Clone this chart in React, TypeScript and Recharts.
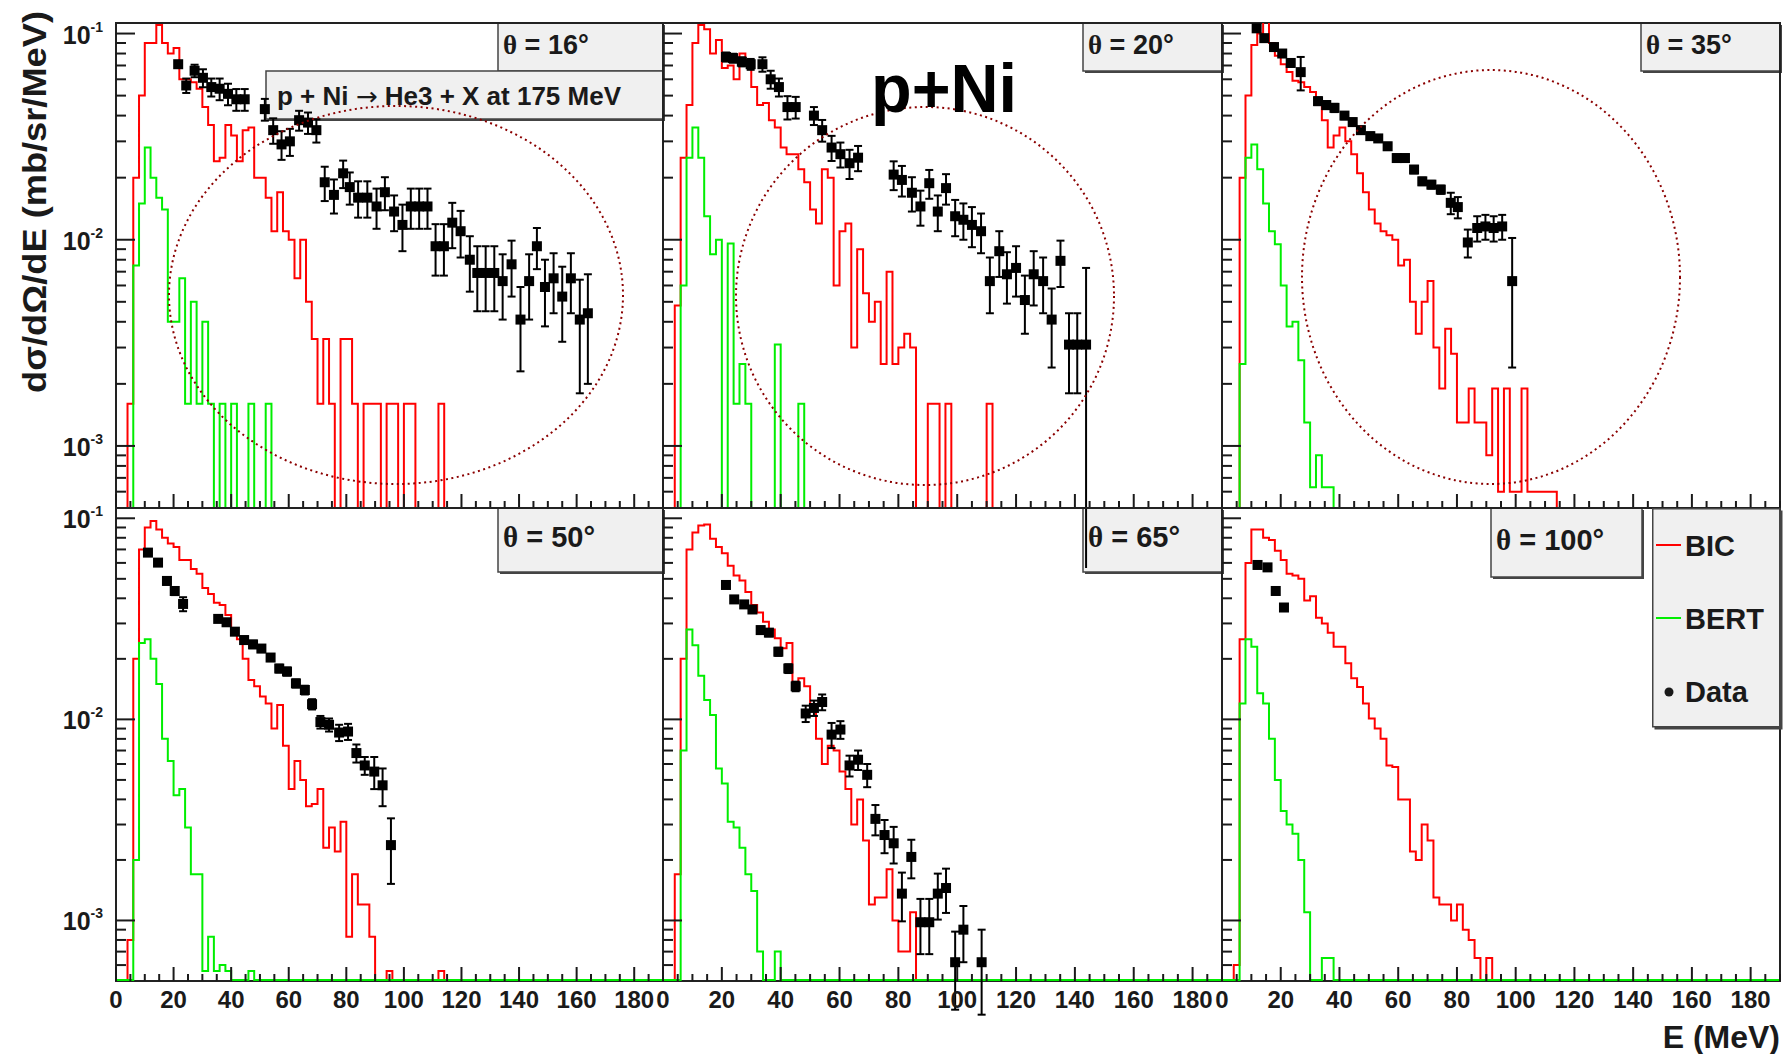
import React from "react";
import { ComposedChart, Line, Scatter, ErrorBar, XAxis, YAxis, ReferenceArea, Legend } from "recharts";

const FONT = "'Liberation Sans', Arial, Helvetica, sans-serif";
const SERIF = "'Liberation Serif', 'DejaVu Serif', serif";
const INK = "#1a1a1a";
const RED = "#ff0000";
const GREEN = "#00ee00";

// binning (MeV) and axis ranges
const BIN = 2;
const E_MAX = 190;
const Y_MIN = 0.0005;
const Y_MAX = 0.1125;

const X_TICKS = [0, 5, 10, 15, 20, 25, 30, 35, 40, 45, 50, 55, 60, 65, 70, 75, 80, 85, 90, 95, 100, 105, 110, 115, 120, 125, 130, 135, 140, 145, 150, 155, 160, 165, 170, 175, 180, 185, 190];
const X_LABELS = [0, 20, 40, 60, 80, 100, 120, 140, 160, 180];
const Y_TICKS = [0.0006, 0.0007, 0.0008, 0.0009, 0.001, 0.002, 0.003, 0.004, 0.005, 0.006, 0.007, 0.008, 0.009, 0.01, 0.02, 0.03, 0.04, 0.05, 0.06, 0.07, 0.08, 0.09, 0.1];
const Y_DECADES = [0.001, 0.01, 0.1];

const ANGLES = [16, 20, 35, 50, 65, 100];

// BIC / BERT histograms, one value per 2 MeV bin starting at 0 MeV (trailing empty bins left out)
const BIC_16 = [0, 0, 0.0016, 0.02, 0.05, 0.09, 0.09, 0.11, 0.09, 0.08, 0.085, 0.06, 0.06, 0.058, 0.054, 0.044, 0.036, 0.024, 0.025, 0.036, 0.032, 0.024, 0.034, 0.035, 0.02, 0.02, 0.016, 0.011, 0.017, 0.011, 0.01, 0.0065, 0.01, 0.005, 0.0033, 0.0016, 0.0033, 0.0016, 0, 0.0033, 0.0033, 0.0016, 0, 0.0016, 0.0016, 0.0016, 0, 0.0016, 0.0016, 0, 0.0016, 0.0016, 0, 0, 0, 0, 0.0016];
const BERT_16 = [0, 0, 0, 0.0075, 0.015, 0.028, 0.02, 0.016, 0.014, 0.004, 0.004, 0.0065, 0.0016, 0.005, 0.0016, 0.004, 0.0016, 0, 0.0016, 0, 0.0016, 0, 0, 0.0016, 0, 0, 0.0016];

const BIC_20 = [0, 0, 0.0048, 0.025, 0.045, 0.09, 0.11, 0.105, 0.08, 0.093, 0.068, 0.07, 0.06, 0.08, 0.072, 0.055, 0.045, 0.046, 0.038, 0.035, 0.028, 0.026, 0.026, 0.022, 0.019, 0.014, 0.012, 0.022, 0.02, 0.006, 0.011, 0.012, 0.003, 0.009, 0.0055, 0.004, 0.005, 0.0025, 0.007, 0.0025, 0.003, 0.0035, 0.003, 0, 0, 0.0016, 0.0016, 0, 0.0016, 0, 0, 0, 0, 0, 0, 0.0016];
const BERT_20 = [0, 0, 0, 0.006, 0.025, 0.035, 0.025, 0.013, 0.0085, 0.01, 0, 0.0096, 0.0016, 0.0025, 0.0016, 0, 0, 0, 0, 0.0031, 0, 0, 0, 0.0016];

const BIC_35 = [0, 0, 0, 0.02, 0.05, 0.088, 0.1, 0.115, 0.09, 0.078, 0.071, 0.065, 0.059, 0.058, 0.055, 0.052, 0.045, 0.038, 0.028, 0.032, 0.035, 0.03, 0.026, 0.021, 0.017, 0.014, 0.012, 0.011, 0.0105, 0.01, 0.0075, 0.008, 0.005, 0.0035, 0.005, 0.0063, 0.003, 0.0019, 0.0037, 0.0028, 0.0013, 0.0013, 0.0019, 0.0013, 0.0013, 0.0009, 0.0019, 0.0006, 0.0019, 0.0006, 0.0006, 0.0019, 0.0006, 0.0006, 0.0006, 0.0006, 0.0006];
const BERT_35 = [0, 0, 0, 0.0025, 0.025, 0.029, 0.022, 0.015, 0.011, 0.0095, 0.006, 0.0038, 0.004, 0.0026, 0.0013, 0.00063, 0.0009, 0.00063, 0.00063];

const BIC_50 = [0, 0, 0.0008, 0.02, 0.07, 0.09, 0.097, 0.088, 0.08, 0.075, 0.072, 0.062, 0.062, 0.056, 0.053, 0.045, 0.042, 0.038, 0.037, 0.033, 0.028, 0.025, 0.02, 0.0157, 0.0146, 0.013, 0.012, 0.009, 0.0118, 0.0074, 0.0045, 0.0062, 0.005, 0.0037, 0.0038, 0.0045, 0.0023, 0.0029, 0.0022, 0.0031, 0.00083, 0.0017, 0.0012, 0.0012, 0.00083, 0, 0, 0.00056, 0, 0, 0, 0, 0, 0, 0, 0, 0.00056];
const BERT_50 = [0, 0, 0, 0.002, 0.024, 0.025, 0.02, 0.015, 0.008, 0.0062, 0.0042, 0.0045, 0.0029, 0.0017, 0.0017, 0.00056, 0.00083, 0.00056, 0.0006, 0.00056, 0, 0, 0, 0.00056];

const BIC_65 = [0, 0, 0.0017, 0.02, 0.07, 0.085, 0.092, 0.093, 0.079, 0.072, 0.067, 0.058, 0.052, 0.049, 0.043, 0.037, 0.034, 0.0306, 0.028, 0.0253, 0.0226, 0.024, 0.015, 0.016, 0.0146, 0.0115, 0.008, 0.006, 0.0074, 0.007, 0.0055, 0.0045, 0.003, 0.004, 0.0025, 0.0012, 0.0013, 0.0013, 0.0018, 0.001, 0.0007, 0.0007, 0.0011];
const BERT_65 = [0, 0, 0, 0.007, 0.028, 0.0234, 0.0165, 0.0125, 0.0105, 0.0057, 0.0048, 0.0031, 0.0029, 0.0023, 0.0017, 0.0014, 0.0007, 0, 0, 0.0007];

const BIC_100 = [0, 0, 0.0006, 0.025, 0.06, 0.088, 0.088, 0.08, 0.078, 0.069, 0.062, 0.053, 0.052, 0.05, 0.039, 0.041, 0.032, 0.03, 0.027, 0.023, 0.023, 0.019, 0.016, 0.0145, 0.012, 0.0101, 0.009, 0.008, 0.0059, 0.0058, 0.004, 0.004, 0.0022, 0.002, 0.003, 0.0025, 0.0013, 0.0012, 0.0012, 0.001, 0.0012, 0.0009, 0.0008, 0.00065, 0, 0.00065];
const BERT_100 = [0, 0, 0, 0.012, 0.025, 0.023, 0.0135, 0.012, 0.008, 0.005, 0.0035, 0.003, 0.0027, 0.002, 0.0011, 0, 0, 0.00065, 0.00065];

// measured He3 points: energy (MeV), cross section, error
const DATA_E_16 = [21.6, 24.4, 27.3, 30.2, 33.1, 36.0, 38.9, 41.8, 44.7, 51.7, 54.6, 57.5, 60.4, 63.6, 66.7, 69.6, 72.5, 75.7, 78.9, 81.2, 84.1, 87.3, 90.5, 93.4, 96.6, 99.5, 102.4, 105.3, 108.2, 111.0, 113.9, 116.8, 119.7, 122.9, 125.5, 128.4, 131.4, 134.3, 137.4, 140.5, 143.5, 146.2, 149.0, 152.0, 155.0, 158.0, 161.1, 163.9];
const DATA_16 = [0.071, 0.056, 0.066, 0.061, 0.055, 0.054, 0.051, 0.048, 0.048, 0.043, 0.034, 0.029, 0.030, 0.038, 0.037, 0.034, 0.019, 0.0165, 0.021, 0.018, 0.016, 0.016, 0.0145, 0.017, 0.0137, 0.0118, 0.0145, 0.0145, 0.0145, 0.0093, 0.0093, 0.0121, 0.011, 0.008, 0.0069, 0.0069, 0.0069, 0.0063, 0.0076, 0.0041, 0.0063, 0.0093, 0.0059, 0.0065, 0.0053, 0.0065, 0.0041, 0.0044];
const DATA_ERR_16 = [0.002, 0.0045, 0.0046, 0.0061, 0.0055, 0.0065, 0.0061, 0.0058, 0.0058, 0.0052, 0.0048, 0.0046, 0.0045, 0.0042, 0.0044, 0.0044, 0.0036, 0.0031, 0.0032, 0.0032, 0.0032, 0.0032, 0.0032, 0.0031, 0.0027, 0.003, 0.0032, 0.0032, 0.0032, 0.0026, 0.0026, 0.003, 0.0028, 0.0024, 0.0024, 0.0024, 0.0024, 0.0022, 0.0023, 0.0018, 0.0022, 0.0021, 0.0021, 0.0021, 0.0021, 0.0021, 0.0023, 0.0024];

const DATA_E_20 = [21.4, 23.8, 26.8, 29.8, 33.8, 36.6, 39.4, 42.3, 45.1, 51.3, 54.1, 57.3, 60.3, 63.4, 66.3, 78.4, 81.2, 84.6, 87.5, 90.5, 93.4, 96.2, 99.3, 102.1, 105.0, 108.1, 111.1, 114.3, 116.9, 120.0, 123.0, 126.0, 129.2, 132.1, 135.1, 138.0, 140.8, 143.8];
const DATA_20 = [0.077, 0.076, 0.073, 0.071, 0.071, 0.060, 0.055, 0.044, 0.044, 0.040, 0.034, 0.028, 0.026, 0.0235, 0.025, 0.0207, 0.0195, 0.0169, 0.0145, 0.0188, 0.0137, 0.0178, 0.013, 0.0125, 0.0118, 0.011, 0.0063, 0.0088, 0.0068, 0.0073, 0.0051, 0.0068, 0.0063, 0.0041, 0.0079, 0.0031, 0.0031, 0.0031];
const DATA_ERR_20 = [0.0039, 0.0038, 0.0037, 0.0043, 0.0057, 0.006, 0.0055, 0.0057, 0.0053, 0.004, 0.0041, 0.0039, 0.0036, 0.0038, 0.0035, 0.0033, 0.0033, 0.0032, 0.0028, 0.003, 0.0027, 0.003, 0.0026, 0.0025, 0.0026, 0.0024, 0.0019, 0.0022, 0.0019, 0.002, 0.0016, 0.002, 0.0019, 0.0017, 0.002, 0.0013, 0.0013, 0.0042];

const DATA_E_35 = [11.8, 14.4, 17.7, 20.5, 23.4, 26.8, 32.7, 35.5, 38.3, 41.7, 44.5, 47.3, 50.5, 53.2, 56.4, 59.5, 62.3, 65.4, 68.2, 71.3, 74.5, 77.9, 80.3, 83.7, 86.9, 89.7, 92.5, 95.4, 98.8];
const DATA_35 = [0.106, 0.095, 0.086, 0.080, 0.072, 0.065, 0.047, 0.045, 0.0436, 0.040, 0.0372, 0.034, 0.0318, 0.031, 0.0284, 0.0249, 0.0249, 0.0219, 0.0192, 0.0185, 0.0175, 0.0151, 0.0144, 0.0097, 0.0114, 0.0116, 0.0114, 0.0116, 0.0063];
const DATA_ERR_35 = [0.003, 0.003, 0.003, 0.003, 0.003, 0.012, 0.002, 0.002, 0.002, 0.0016, 0.0015, 0.0014, 0.0013, 0.0012, 0.0011, 0.001, 0.001, 0.0009, 0.0008, 0.0008, 0.0008, 0.0018, 0.0017, 0.0015, 0.0016, 0.0016, 0.0016, 0.0016, 0.0039];

const DATA_E_50 = [11.1, 14.6, 17.7, 20.4, 23.3, 35.5, 38.4, 41.3, 44.5, 47.6, 50.5, 53.7, 56.7, 59.4, 62.5, 65.6, 68.1, 71.0, 74.0, 77.5, 80.6, 83.5, 86.4, 89.7, 92.6, 95.5];
const DATA_50 = [0.0675, 0.0602, 0.0488, 0.0435, 0.0375, 0.0316, 0.0304, 0.0273, 0.0248, 0.0236, 0.0225, 0.0203, 0.0179, 0.0173, 0.0151, 0.014, 0.0119, 0.0097, 0.0094, 0.0086, 0.0087, 0.0068, 0.0059, 0.0055, 0.0047, 0.00237];
const DATA_ERR_50 = [0.002, 0.002, 0.002, 0.002, 0.003, 0.001, 0.001, 0.001, 0.001, 0.001, 0.0009, 0.0008, 0.0008, 0.0008, 0.0007, 0.0007, 0.0007, 0.0007, 0.0007, 0.0008, 0.0008, 0.0007, 0.0006, 0.001, 0.001, 0.00085];

const DATA_E_65 = [21.4, 24.2, 27.6, 30.4, 33.2, 36.0, 39.2, 42.6, 45.1, 48.5, 51.3, 54.1, 57.3, 60.3, 63.4, 66.3, 69.4, 72.2, 75.3, 78.4, 81.2, 84.4, 87.5, 90.5, 93.4, 96.2, 99.3, 102.1, 108.3];
const DATA_65 = [0.0466, 0.0395, 0.0373, 0.0352, 0.0278, 0.027, 0.0217, 0.0179, 0.0146, 0.0107, 0.0114, 0.0122, 0.0084, 0.0089, 0.0059, 0.0063, 0.0053, 0.0032, 0.00266, 0.00242, 0.00136, 0.00207, 0.00098, 0.00098, 0.00136, 0.00145, 0.00062, 0.0009, 0.00062];
const DATA_ERR_65 = [0.0015, 0.0013, 0.0012, 0.0012, 0.0011, 0.0011, 0.001, 0.0009, 0.0008, 0.001, 0.001, 0.0011, 0.0012, 0.0009, 0.0007, 0.0007, 0.0007, 0.00055, 0.0005, 0.0005, 0.00037, 0.00045, 0.0003, 0.0003, 0.00035, 0.00036, 0.00026, 0.00028, 0.00028];

const DATA_E_100 = [12.1, 15.5, 18.3, 21.1];
const DATA_100 = [0.0586, 0.057, 0.0435, 0.036];
const DATA_ERR_100 = [0.0015, 0.0015, 0.0012, 0.001];

const PANELS = [
  { angle: ANGLES[0], row: 0, col: 0, bic: BIC_16, bert: BERT_16, e: DATA_E_16, v: DATA_16, err: DATA_ERR_16 },
  { angle: ANGLES[1], row: 0, col: 1, bic: BIC_20, bert: BERT_20, e: DATA_E_20, v: DATA_20, err: DATA_ERR_20 },
  { angle: ANGLES[2], row: 0, col: 2, bic: BIC_35, bert: BERT_35, e: DATA_E_35, v: DATA_35, err: DATA_ERR_35 },
  { angle: ANGLES[3], row: 1, col: 0, bic: BIC_50, bert: BERT_50, e: DATA_E_50, v: DATA_50, err: DATA_ERR_50 },
  { angle: ANGLES[4], row: 1, col: 1, bic: BIC_65, bert: BERT_65, e: DATA_E_65, v: DATA_65, err: DATA_ERR_65 },
  { angle: ANGLES[5], row: 1, col: 2, bic: BIC_100, bert: BERT_100, e: DATA_E_100, v: DATA_100, err: DATA_ERR_100, legend: true },
];

// page layout (px)
const COLS = [
  { left: 116, width: 547 },
  { left: 663, width: 559 },
  { left: 1222, width: 558 },
];
const ROWS = [
  { top: 23, height: 485, floor: 1e-5 },
  { top: 508, height: 473, floor: Y_MIN * 1.012 },
];
const PAD_L = 100;
const PAD_T = 10;
const PAD_R = 10;
const PAD_B = 60;

const THETA_BOXES = [
  { x: 498, y: 23, w: 165, h: 48, tx: 503, ty: 54, fs: 27 },
  { x: 1083, y: 23, w: 139, h: 48, tx: 1088, ty: 54, fs: 27 },
  { x: 1641, y: 23, w: 139, h: 48, tx: 1646, ty: 54, fs: 27 },
  { x: 498, y: 508, w: 165, h: 64, tx: 503, ty: 547, fs: 29 },
  { x: 1083, y: 508, w: 139, h: 64, tx: 1088, ty: 547, fs: 29 },
  { x: 1491, y: 508, w: 151, h: 69, tx: 1496, ty: 550, fs: 29 },
];

const LEGEND_ORDER = ["BIC", "BERT", "Data"];

function histTable(bic: number[], bert: number[], floor: number) {
  const rows: { x: number; bic: number; bert: number }[] = [];
  for (let i = 0; i * BIN <= E_MAX; i++) {
    const b = bic[i] ?? 0;
    const g = bert[i] ?? 0;
    // empty bins drop to the bottom of the log axis
    rows.push({ x: i * BIN, bic: b > 0 ? b : floor, bert: g > 0 ? g : floor });
  }
  return rows;
}

function pointTable(e: number[], v: number[], err: number[]) {
  return e.map((x, i) => ({ x, y: v[i], err: [Math.min(err[i], v[i] * 0.999), err[i]] }));
}

function XTick(props: any) {
  const { x, y, payload, showLabel } = props;
  const v = payload.value;
  const len = v % 20 === 0 ? 14 : 7;
  return (
    <g>
      <line x1={x} y1={y} x2={x} y2={y - len} stroke={INK} strokeWidth={2} />
      {showLabel && X_LABELS.includes(v) ? (
        <text x={x} y={y + 27} textAnchor="middle" fontFamily={FONT} fontWeight="bold" fontSize={24} fill={INK}>
          {v}
        </text>
      ) : null}
    </g>
  );
}

function YTick(props: any) {
  const { x, y, payload, showLabel } = props;
  const v = payload.value;
  const decade = Y_DECADES.includes(v);
  const len = decade ? 19 : 10;
  return (
    <g>
      <line x1={x} y1={y} x2={x + len} y2={y} stroke={INK} strokeWidth={2} />
      {showLabel && decade ? (
        <text x={x - 13} y={y + 10} textAnchor="end" fontFamily={FONT} fontWeight="bold" fontSize={25} fill={INK}>
          10<tspan dy={-12} fontSize={14}>{Math.round(Math.log10(v))}</tspan>
        </text>
      ) : null}
    </g>
  );
}

const Square = (p: any) => <rect x={p.cx - 5} y={p.cy - 5} width={10} height={10} fill="#000" />;

function LegendBox(props: any) {
  const items = [...(props.payload || [])].sort(
    (a: any, b: any) => LEGEND_ORDER.indexOf(a.value) - LEGEND_ORDER.indexOf(b.value)
  );
  return (
    <svg width={133} height={224} style={{ display: "block", overflow: "visible" }}>
      <rect x={2.5} y={2.5} width={128} height={219} fill="#444" />
      <rect x={0.75} y={0.75} width={127} height={218} fill="#f0f0f0" stroke="#444" strokeWidth={1.5} />
      {items.map((it: any, i: number) => {
        const base = 48 + i * 73;
        return (
          <g key={it.value}>
            {it.type === "line" ? (
              <line x1={4} x2={29} y1={base - 11} y2={base - 11} stroke={it.color} strokeWidth={2} />
            ) : (
              <circle cx={17} cy={base - 10} r={4.5} fill={INK} />
            )}
            <text x={33} y={base} fontFamily={FONT} fontWeight="bold" fontSize={29} fill={INK}>
              {it.value}
            </text>
          </g>
        );
      })}
    </svg>
  );
}

function Pave({ x, y, w, h }: { x: number; y: number; w: number; h: number }) {
  return (
    <g>
      <rect x={x + 2} y={y + 2} width={w} height={h} fill="#444" />
      <rect x={x} y={y} width={w} height={h} fill="#f0f0f0" stroke="#444" strokeWidth={1.5} />
    </g>
  );
}

function Panel({ p }: { p: any }) {
  const col = COLS[p.col];
  const row = ROWS[p.row];
  const w = col.width + PAD_L + PAD_R;
  const h = row.height + PAD_T + PAD_B;
  const hist = histTable(p.bic, p.bert, row.floor);
  const pts = pointTable(p.e, p.v, p.err);
  return (
    <div style={{ position: "absolute", left: col.left - PAD_L, top: row.top - PAD_T, width: w, height: h }}>
      <ComposedChart width={w} height={h} margin={{ top: PAD_T, right: PAD_R, bottom: 0, left: 0 }}>
        <XAxis
          type="number"
          dataKey="x"
          domain={[0, E_MAX]}
          allowDataOverflow
          ticks={X_TICKS}
          interval={0}
          height={PAD_B}
          tickSize={0}
          tickMargin={0}
          axisLine={false}
          tickLine={false}
          tick={<XTick showLabel={p.row === 1} />}
        />
        <YAxis
          type="number"
          scale="log"
          domain={[Y_MIN, Y_MAX]}
          allowDataOverflow
          ticks={Y_TICKS}
          interval={0}
          width={PAD_L}
          tickSize={0}
          tickMargin={0}
          axisLine={false}
          tickLine={false}
          tick={<YTick showLabel={p.col === 0} />}
        />
        <ReferenceArea x1={0} x2={E_MAX} y1={Y_MIN} y2={Y_MAX} fill="none" stroke="#222" strokeWidth={2} />
        <Line data={hist} dataKey="bic" name="BIC" type="stepAfter" stroke={RED} strokeWidth={2} dot={false} activeDot={false} isAnimationActive={false} />
        <Line data={hist} dataKey="bert" name="BERT" type="stepAfter" stroke={GREEN} strokeWidth={2} dot={false} activeDot={false} isAnimationActive={false} />
        <Scatter data={pts} dataKey="y" name="Data" fill="#000" shape={Square} isAnimationActive={false}>
          <ErrorBar dataKey="err" direction="y" width={4} stroke="#000" strokeWidth={2} />
        </Scatter>
        {p.legend ? (
          <Legend
            layout="vertical"
            align="center"
            verticalAlign="middle"
            wrapperStyle={{ position: "absolute", left: 530, top: 10, width: 133, height: 224, margin: 0 }}
            content={(lp: any) => <LegendBox {...lp} />}
          />
        ) : null}
      </ComposedChart>
    </div>
  );
}

export default function App() {
  return (
    <div style={{ position: "absolute", left: 0, top: 0, width: 1783, height: 1054, background: "#fff", overflow: "hidden" }}>
      <svg width={1783} height={1054} style={{ position: "absolute", left: 0, top: 0 }}>
        {THETA_BOXES.map((b, i) => (
          <g key={i}>
            <Pave x={b.x} y={b.y} w={b.w} h={b.h} />
            <text x={b.tx} y={b.ty} fontFamily={FONT} fontWeight="bold" fontSize={b.fs} fill={INK}>
              <tspan fontFamily={SERIF}>θ</tspan> = {ANGLES[i]}°
            </text>
          </g>
        ))}
        <Pave x={266} y={71} w={397} h={48} />
        <text x={277} y={105} fontFamily={FONT} fontWeight="bold" fontSize={25} fill={INK} textLength={344} lengthAdjust="spacingAndGlyphs">
          p + Ni <tspan fontFamily="'DejaVu Sans', sans-serif" fontWeight="normal">→</tspan> He3 + X at 175 MeV
        </text>
      </svg>

      {PANELS.map((p, i) => (
        <Panel key={i} p={p} />
      ))}

      <svg width={1783} height={1054} style={{ position: "absolute", left: 0, top: 0, pointerEvents: "none" }}>
        <g fill="none" stroke="#8b0000" strokeWidth={2} strokeDasharray="2 3.5">
          <ellipse cx={396} cy={295} rx={227} ry={189} />
          <ellipse cx={925} cy={296} rx={189} ry={189} />
          <ellipse cx={1491} cy={277} rx={189} ry={207} />
        </g>
        <text x={871} y={112} fontFamily={FONT} fontWeight="bold" fontSize={68} fill="#000" textLength={146} lengthAdjust="spacingAndGlyphs">
          p+Ni
        </text>
        <text
          transform="translate(46 202) rotate(-90)"
          textAnchor="middle"
          fontFamily={FONT}
          fontWeight="bold"
          fontSize={34}
          fill={INK}
          textLength={382}
          lengthAdjust="spacingAndGlyphs"
        >
          dσ/dΩ/dE (mb/sr/MeV)
        </text>
        <text x={1780} y={1048} textAnchor="end" fontFamily={FONT} fontWeight="bold" fontSize={32} fill={INK}>
          E (MeV)
        </text>
      </svg>
    </div>
  );
}
